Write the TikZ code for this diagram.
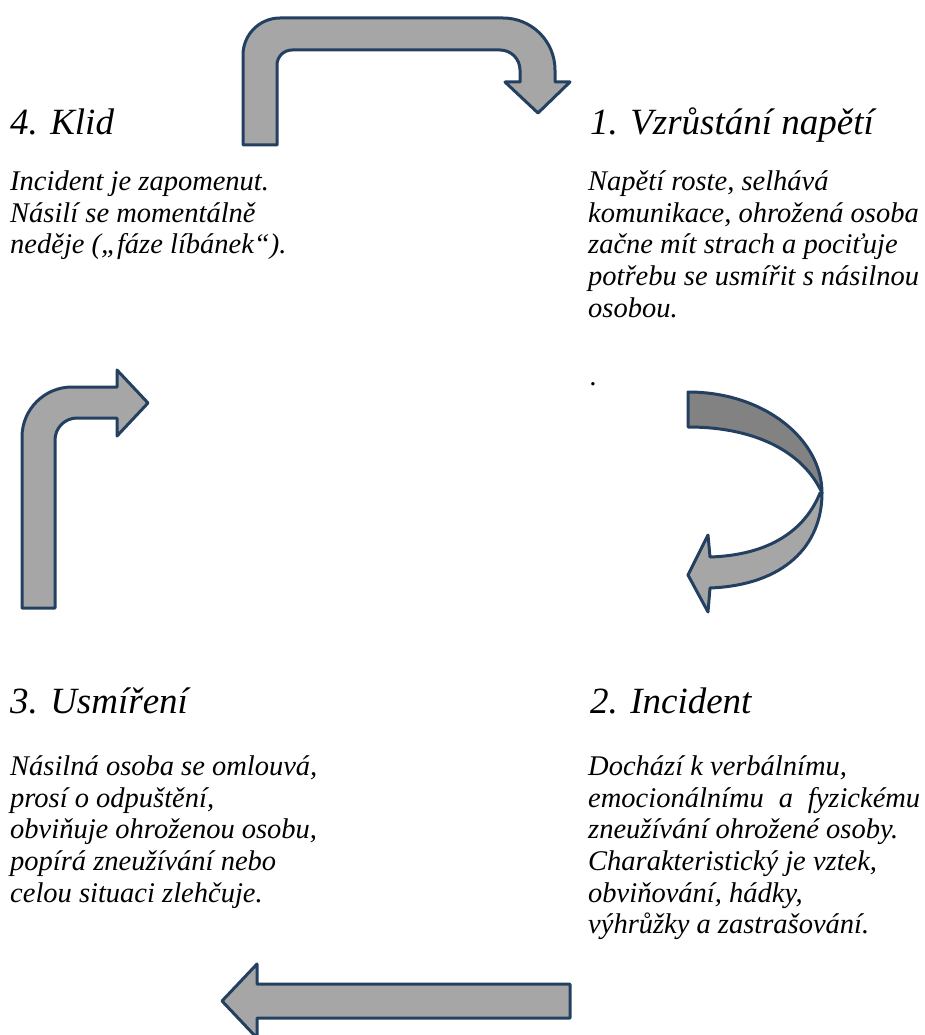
\documentclass[tikz,border=0pt]{standalone}
\usepackage{fontspec}
\setmainfont{Liberation Serif}
\definecolor{edgeblue}{RGB}{36,64,97}
\definecolor{fillL}{RGB}{166,166,166}
\definecolor{fillD}{RGB}{130,130,130}
\begin{document}
\begin{tikzpicture}[x=1pt,y=-1pt,
  blockarrow/.style={draw=edgeblue, line width=3pt, fill=fillL, line join=round},
  darkband/.style={blockarrow, fill=fillD},
  title/.style={anchor=base west, inner sep=0pt, font=\fontsize{37}{44}\selectfont\itshape},
  body/.style={anchor=north west, inner sep=0pt, align=left, font=\fontsize{28.5}{31.7}\selectfont\itshape}]
\useasboundingbox (0,0) rectangle (925,1035);

% top arrow (4 -> 1)
\draw[blockarrow] (243,145) -- (243,55) arc[start angle=180,end angle=90,radius=37pt]
  -- (503,18) arc[start angle=90,end angle=0,radius=52pt]
  -- (555,82) -- (570,82) -- (538,113) -- (505,82) -- (520,82) -- (520,70)
  arc[start angle=0,end angle=90,radius=20pt]
  -- (292,50) arc[start angle=90,end angle=180,radius=15pt]
  -- (277,145) -- cycle;

% right curved arrow (1 -> 2)
\draw[darkband] (688,392) .. controls (765,392) and (822,440) .. (822,493)
  .. controls (805,455) and (760,427) .. (688,427) -- cycle;
\draw[blockarrow] (820,493) .. controls (805,530) and (770,555) .. (710,557)
  -- (708,535) -- (688,575) -- (708,612) -- (710,588)
  .. controls (785,585) and (822,545) .. (822,493) -- cycle;

% bottom arrow (2 -> 3)
\draw[blockarrow] (570,984) -- (257,984) -- (257,964) -- (222,1001) -- (257,1038)
  -- (257,1018) -- (570,1018) -- cycle;

% left arrow (3 -> 4)
\draw[blockarrow] (22,608) -- (22,437) arc[start angle=180,end angle=90,radius=50pt]
  -- (117,387) -- (117,370) -- (148,403) -- (117,436) -- (117,418) -- (77,418)
  arc[start angle=90,end angle=180,radius=22pt]
  -- (55,608) -- cycle;

% texts
\node[title] (t4) at (10,135) {4. Klid};
\node[body] (b4) at (10,168) {\strut Incident je zapomenut.\\ Násilí se momentálně\\ neděje („fáze líbánek“).};

\node[title] (t1) at (590,135) {1. Vzrůstání napětí};
\node[body] (b1) at (588,168) {\strut Napětí roste, selhává\\ komunikace, ohrožená osoba\\ začne mít strach a pociťuje\\ potřebu se usmířit s násilnou\\ osobou.};
\node[body, anchor=base west] (dot) at (590,385) {.};

\node[title] (t3) at (10,713) {3. Usmíření};
\node[body] (b3) at (10,753) {\strut Násilná osoba se omlouvá,\\ prosí o odpuštění,\\ obviňuje ohroženou osobu,\\ popírá zneužívání nebo\\ celou situaci zlehčuje.};

\node[title] (t2) at (590,713) {2. Incident};
\node[body] (b2) at (588,753) {\strut Dochází k verbálnímu,\\ \hbox to 332pt{emocionálnímu\hfill a\hfill fyzickému}\\ zneužívání ohrožené osoby.\\ Charakteristický je vztek,\\ obviňování, hádky,\\ výhrůžky a zastrašování.};
\end{tikzpicture}
\end{document}
